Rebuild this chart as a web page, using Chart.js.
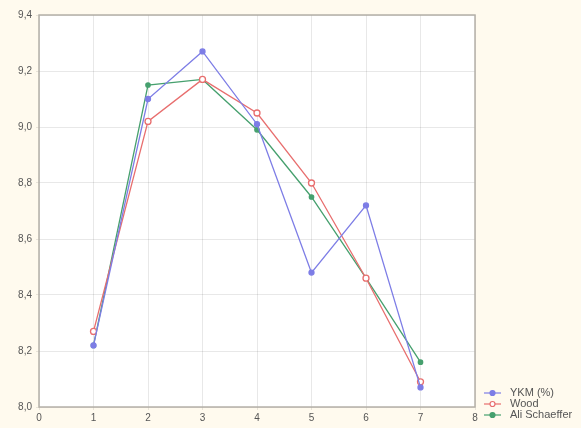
<!DOCTYPE html>
<html>
<head>
<meta charset="utf-8">
<script src="https://cdn.jsdelivr.net/npm/chart.js@4"></script>
<style>
    html, body { margin: 0; padding: 0; background: #fffaee; }
    #wrap { width: 581px; height: 428px; }
</style>
</head>
<body>
<div id="wrap"><canvas id="chart"></canvas></div>
<script>
// x positions (1..7) and the three series
const xValues = [1, 2, 3, 4, 5, 6, 7];
const ykm = [8.22, 9.10, 9.27, 9.01, 8.48, 8.72, 8.07];
const wood = [8.27, 9.02, 9.17, 9.05, 8.80, 8.46, 8.09];
const aliSchaeffer = [8.22, 9.15, 9.17, 8.99, 8.75, 8.46, 8.16];
const seriesNames = ['YKM (%)', 'Wood', 'Ali Schaeffer'];

const toPoints = vals => xValues.map((x, i) => ({ x: x, y: vals[i] }));
const fmt = v => v.toFixed(1).replace('.', ',');

// background: cream page, white plot area, grey frame
const framePlugin = {
    id: 'frame',
    beforeDraw(chart) {
        const { ctx, chartArea: a } = chart;
        ctx.save();
        ctx.fillStyle = '#fffaee';
        ctx.fillRect(0, 0, chart.width, chart.height);
        ctx.fillStyle = '#ffffff';
        ctx.fillRect(a.left, a.top, a.right - a.left, a.bottom - a.top);
        ctx.restore();
    },
    afterDraw(chart) {
        const { ctx, chartArea: a } = chart;
        ctx.save();
        ctx.strokeStyle = '#b4b0a8';
        ctx.lineWidth = 1.5;
        ctx.strokeRect(a.left, a.top, a.right - a.left, a.bottom - a.top);
        ctx.restore();
    },
};

// legend in the lower right corner: short line with the marker in the middle
const legendPlugin = {
    id: 'cornerLegend',
    afterDraw(chart) {
        const { ctx, chartArea: a } = chart;
        ctx.save();
        ctx.font = '11px "Liberation Sans", Arial, sans-serif';
        ctx.textBaseline = 'middle';
        chart.data.datasets.forEach((ds, i) => {
            const y = a.bottom - 14 + i * 11;
            const x0 = a.right + 9;
            ctx.strokeStyle = ds.borderColor;
            ctx.lineWidth = 1.2;
            ctx.beginPath();
            ctx.moveTo(x0, y);
            ctx.lineTo(x0 + 17, y);
            ctx.stroke();
            ctx.beginPath();
            ctx.arc(x0 + 8.5, y, 2.5, 0, Math.PI * 2);
            ctx.fillStyle = ds.pointBackgroundColor;
            ctx.fill();
            ctx.stroke();
            ctx.fillStyle = '#555';
            ctx.fillText(ds.label, x0 + 26, y);
        });
        ctx.restore();
    },
};

const ctx = document.getElementById('chart').getContext('2d');
new Chart(ctx, {
    type: 'line',
    data: {
        datasets: [
            {
                label: seriesNames[0],
                data: toPoints(ykm),
                borderColor: 'rgb(125, 125, 230)',
                pointBackgroundColor: 'rgb(125, 125, 230)',
                pointBorderColor: 'rgb(125, 125, 230)',
                borderWidth: 1.3,
                pointRadius: 2.5,
                tension: 0,
            },
            {
                label: seriesNames[1],
                data: toPoints(wood),
                borderColor: 'rgb(232, 110, 110)',
                pointBackgroundColor: '#ffffff',
                pointBorderColor: 'rgb(232, 110, 110)',
                borderWidth: 1.3,
                pointRadius: 3,
                tension: 0,
            },
            {
                label: seriesNames[2],
                data: toPoints(aliSchaeffer),
                borderColor: 'rgb(70, 160, 110)',
                pointBackgroundColor: 'rgb(70, 160, 110)',
                pointBorderColor: 'rgb(70, 160, 110)',
                borderWidth: 1.3,
                pointRadius: 2.2,
                tension: 0,
            },
        ],
    },
    options: {
        responsive: true,
        maintainAspectRatio: false,
        animation: false,
        layout: { padding: { top: 15, right: 106, left: 0, bottom: 0 } },
        plugins: {
            legend: { display: false },
            tooltip: { enabled: false },
        },
        scales: {
            x: {
                type: 'linear',
                min: 0,
                max: 8,
                ticks: {
                    stepSize: 1,
                    color: '#555',
                    font: { size: 10, family: '"Liberation Sans", Arial, sans-serif' },
                    padding: 2,
                },
                grid: { color: 'rgba(0, 0, 0, 0.09)', tickLength: 3 },
                border: { display: false },
                afterFit(scale) { scale.height = 21; },
            },
            y: {
                min: 8.0,
                max: 9.4,
                ticks: {
                    stepSize: 0.2,
                    color: '#555',
                    font: { size: 10, family: '"Liberation Sans", Arial, sans-serif' },
                    padding: 4,
                    callback: v => fmt(v),
                },
                grid: { color: 'rgba(0, 0, 0, 0.09)', tickLength: 3 },
                border: { display: false },
                afterFit(scale) { scale.width = 39; },
            },
        },
    },
    plugins: [framePlugin, legendPlugin],
});
</script>
</body>
</html>
